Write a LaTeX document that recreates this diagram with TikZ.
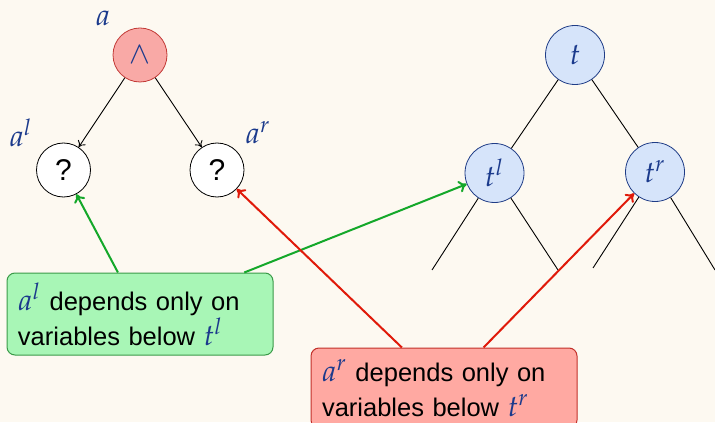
\documentclass[tikz,border=0pt]{standalone}
\usepackage{mathpazo}
\usepackage[no-math]{fontspec}
\setmainfont{Liberation Sans}
\usetikzlibrary{arrows.meta}
\definecolor{bgc}{HTML}{FDF9F1}
\definecolor{mblue}{HTML}{1B3A8C}
\definecolor{andfill}{HTML}{F9A9A6}
\definecolor{anddraw}{HTML}{C23A36}
\definecolor{tfill}{HTML}{D6E4FA}
\definecolor{tdraw}{HTML}{1F3C86}
\definecolor{gfill}{HTML}{A8F6B6}
\definecolor{gdraw}{HTML}{3A9A48}
\definecolor{garr}{HTML}{14A82A}
\definecolor{rfill}{HTML}{FFA9A2}
\definecolor{rdraw}{HTML}{C2302A}
\definecolor{rarr}{HTML}{E01A0A}
% math symbols in the diagram, slightly larger than the text
\newcommand{\mv}[1]{{\color{mblue}\fontsize{15}{15}\selectfont$#1$}}
\begin{document}
\begin{tikzpicture}[x=0.5pt,y=-0.5pt,
  every node/.style={font=\fontsize{12.75}{15}\selectfont},
  andnode/.style={circle,draw=anddraw,fill=andfill,minimum size=27pt,inner sep=0pt,text=mblue},
  qnode/.style={circle,draw=black,fill=white,minimum size=27pt,inner sep=0pt,
    font=\fontsize{15}{15}\selectfont},
  tnode/.style={circle,draw=tdraw,fill=tfill,minimum size=29.5pt,inner sep=0pt,text=mblue},
  mlbl/.style={text=mblue,inner sep=0pt},
  tline/.style={draw=black,line width=0.45pt},
  karrow/.style={tline,-{To[length=3pt,width=4.5pt]}},
  boxtext/.style={align=left,inner xsep=5.5pt,inner ysep=3pt,rounded corners=4pt,line width=0.5pt,
    font=\fontsize{12.75}{17.5}\selectfont},
  gbox/.style={boxtext,draw=gdraw,fill=gfill,text width=122pt,minimum height=41pt},
  rbox/.style={boxtext,draw=rdraw,fill=rfill,text width=122pt,minimum height=40pt},
  garrow/.style={draw=garr,line width=1pt,-{To[length=4pt,width=6pt]}},
  rarrow/.style={draw=rarr,line width=1pt,-{To[length=4pt,width=6pt]}}]
\fill[bgc] (0,0) rectangle (715,422);
\useasboundingbox (0,0) rectangle (715,422);
\clip (0,0) rectangle (715,422);

% formula tree
\node[andnode] (a) at (140,55) {\mv{\wedge}};
\node[qnode] (al) at (63.5,170) {?};
\node[qnode] (ar) at (217,170) {?};
\node[mlbl] (la) at (103,18) {\mv{a}};
\node[mlbl] (lal) at (21,133) {\mv{a^l}};
\node[mlbl] (lar) at (258,133) {\mv{a^r}};
\draw[karrow] (a) -- (al);
\draw[karrow] (a) -- (ar);

% variable tree
\node[tnode] (t) at (575,55) {\mv{t}};
\node[tnode] (tl) at (494.5,173) {\mv{t^l}};
\node[tnode] (tr) at (655,172) {\mv{t^r}};
\coordinate (tll) at (432,270);
\coordinate (tlr) at (558,270);
\coordinate (trl) at (593,268);
\coordinate (trr) at (715,270);
\draw[tline] (t) -- (tl);
\draw[tline] (t) -- (tr);
\draw[tline] (tl) -- (tll);
\draw[tline] (tl) -- (tlr);
\draw[tline] (tr) -- (trl);
\draw[tline] (tr) -- (trr);

% explanations
\node[gbox] (gb) at (140,314)
  {\mv{a^l} depends only on\\variables below \mv{t^l}};
\node[rbox] (rb) at (444,388)
  {\mv{a^r} depends only on\\variables below \mv{t^r}};
\draw[garrow] (gb) -- (al);
\draw[garrow] (gb) -- (tl);
\draw[rarrow] (rb) -- (ar);
\draw[rarrow] (rb) -- (tr);
\end{tikzpicture}
\end{document}
